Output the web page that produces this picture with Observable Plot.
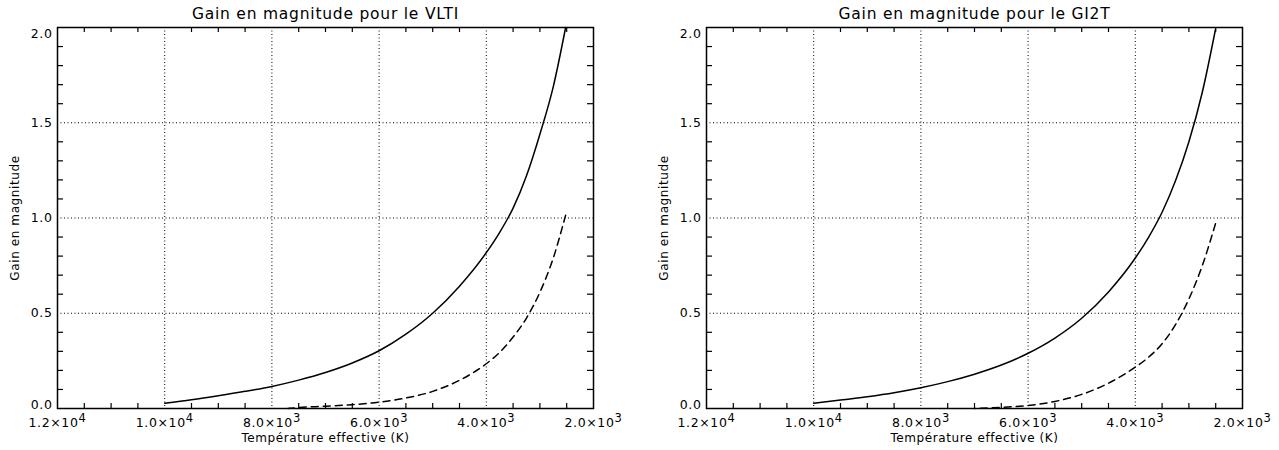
<!DOCTYPE html>
<html><head><meta charset="utf-8">
<script src="https://cdn.jsdelivr.net/npm/d3@7"></script>
<script src="https://cdn.jsdelivr.net/npm/@observablehq/plot@0.6"></script>
<style>
body{margin:0;background:#fff;}
#wrap{display:flex;width:1279px;height:450px;}
svg text{letter-spacing:0.05em;}
</style></head><body><div id="wrap"></div>
<script>
// ---- data ----
const titleVLTI = "Gain en magnitude pour le VLTI";
const titleGI2T = "Gain en magnitude pour le GI2T";
const xLabel = "Température effective (K)";
const yLabel = "Gain en magnitude";

const xTickValues = [12000, 10000, 8000, 6000, 4000, 2000];
const xGridValues = [10000, 8000, 6000, 4000];
const xMinorTicks = [11500, 11000, 10500, 9500, 9000, 8500, 7500, 7000, 6500, 5500, 5000, 4500, 3500, 3000, 2500];
const yTickValues = [0.5, 1.0, 1.5];
const yEndTop = [2.0];
const yEndBottom = [0.0];
const yGridValues = [0.5, 1.0, 1.5];
const yMinorTicks = [0.1, 0.2, 0.3, 0.4, 0.6, 0.7, 0.8, 0.9, 1.1, 1.2, 1.3, 1.4, 1.6, 1.7, 1.8, 1.9];

// VLTI
const vltiSolidT = [10000, 9500, 9000, 8500, 8000, 7500, 7000, 6500, 6000, 5500, 5000, 4500, 4000, 3750, 3500, 3250, 3000, 2750, 2520];
const vltiSolidV = [0.028, 0.046, 0.067, 0.09, 0.116, 0.149, 0.189, 0.239, 0.303, 0.39, 0.50, 0.642, 0.818, 0.925, 1.052, 1.222, 1.44, 1.69, 2.0];
const vltiDashT = [7700, 7500, 7000, 6500, 6000, 5500, 5000, 4500, 4000, 3750, 3500, 3250, 3000, 2750, 2520];
const vltiDashV = [0.0, 0.005, 0.012, 0.02, 0.033, 0.055, 0.09, 0.148, 0.235, 0.295, 0.375, 0.475, 0.61, 0.79, 1.015];

// GI2T
const gi2tSolidT = [10000, 9500, 9000, 8500, 8000, 7500, 7000, 6500, 6000, 5500, 5000, 4500, 4000, 3750, 3500, 3250, 3000, 2750, 2504];
const gi2tSolidV = [0.028, 0.044, 0.062, 0.083, 0.109, 0.141, 0.18, 0.228, 0.29, 0.37, 0.474, 0.612, 0.79, 0.90, 1.03, 1.195, 1.40, 1.66, 1.99];
const gi2tDashT = [7000, 6500, 6000, 5500, 5000, 4500, 4000, 3750, 3500, 3250, 3000, 2750, 2504];
const gi2tDashV = [0.0, 0.006, 0.016, 0.037, 0.074, 0.133, 0.217, 0.27, 0.34, 0.44, 0.575, 0.75, 0.97];

// ---- drawing ----
const H = 450, MT = 27, MB = 42;
const innerH = H - MT - MB;
const innerW = 536;
const fontFamily = "'DejaVu Sans', sans-serif";
const tickFont = 12.5;

function sciFormat(d) {
  const e = Math.floor(Math.log10(d) + 1e-9);
  const m = d / Math.pow(10, e);
  return `${m.toFixed(1)}×10^${e}`;
}

function panel(title, sT, sV, dT, dV, width, marginLeft) {
  const marginRight = width - marginLeft - innerW;
  const solid = sT.map((t, i) => ({T: t, v: sV[i]})).sort((a, b) => a.T - b.T);
  const dash = dT.map((t, i) => ({T: t, v: dV[i]})).sort((a, b) => a.T - b.T);
  const dotted = {stroke: "black", strokeOpacity: 1, strokeWidth: 1, strokeDasharray: "1,2.5"};
  const yfmt = d3.format(".1f");
  const svg = Plot.plot({
    width, height: H,
    marginLeft, marginRight, marginTop: MT, marginBottom: MB,
    style: {fontFamily, fontSize: tickFont + "px", color: "black", background: "white"},
    x: {domain: [12000, 2000]},
    y: {domain: [0, 2]},
    marks: [
      Plot.gridX(xGridValues, dotted),
      Plot.gridY(yGridValues, dotted),
      Plot.tickX(xMinorTicks, {insetTop: innerH - 5, stroke: "black", strokeWidth: 1.2}),
      Plot.tickX(xMinorTicks, {insetBottom: innerH - 5, stroke: "black", strokeWidth: 1.2}),
      Plot.tickY(yMinorTicks, {insetRight: innerW - 6, stroke: "black", strokeWidth: 1.2}),
      Plot.tickY(yMinorTicks, {insetLeft: innerW - 6, stroke: "black", strokeWidth: 1.2}),
      Plot.line(solid, {x: "T", y: "v", stroke: "black", strokeWidth: 1.5, curve: "monotone-x"}),
      Plot.line(dash, {x: "T", y: "v", stroke: "black", strokeWidth: 1.5, strokeDasharray: "7,5", curve: "monotone-x"}),
      Plot.frame({stroke: "black", strokeWidth: 1.5}),
      Plot.axisX(xTickValues, {tickSize: 0, tickPadding: 10, tickFormat: sciFormat, fontSize: tickFont, label: null}),
      Plot.axisY(yTickValues, {tickSize: 0, tickPadding: 5, tickFormat: yfmt, fontSize: tickFont, label: null}),
      Plot.axisY(yEndTop, {tickSize: 0, tickPadding: 5, tickFormat: yfmt, fontSize: tickFont, label: null, dy: 6}),
      Plot.axisY(yEndBottom, {tickSize: 0, tickPadding: 5, tickFormat: yfmt, fontSize: tickFont, label: null, dy: -4}),
      Plot.text([title], {frameAnchor: "top", dy: -13, fontSize: 15.5, lineAnchor: "middle", textAnchor: "middle", text: d => d}),
      Plot.text([xLabel], {frameAnchor: "bottom", dy: 30, fontSize: 12, lineAnchor: "middle", textAnchor: "middle", text: d => d}),
      Plot.text([yLabel], {frameAnchor: "left", dx: -42, rotate: -90, fontSize: 12, lineAnchor: "middle", textAnchor: "middle", text: d => d})
    ]
  });
  // tick label font size
  svg.querySelectorAll('g[aria-label$="tick label"]').forEach(g => g.setAttribute("font-size", tickFont));
  // superscript exponents in x tick labels
  svg.querySelectorAll('g[aria-label="x-axis tick label"] text').forEach(t => {
    const s = t.textContent;
    if (s.includes("^")) {
      const [base, exp] = s.split("^");
      t.textContent = base;
      const ts = document.createElementNS("http://www.w3.org/2000/svg", "tspan");
      ts.setAttribute("dy", "-0.45em");
      ts.setAttribute("font-size", "11.5px");
      ts.textContent = exp;
      t.appendChild(ts);
    }
  });
  return svg;
}

const wrap = document.getElementById("wrap");
wrap.appendChild(panel(titleVLTI, vltiSolidT, vltiSolidV, vltiDashT, vltiDashV, 640, 57));
wrap.appendChild(panel(titleGI2T, gi2tSolidT, gi2tSolidV, gi2tDashT, gi2tDashV, 639, 66));
</script></body></html>
